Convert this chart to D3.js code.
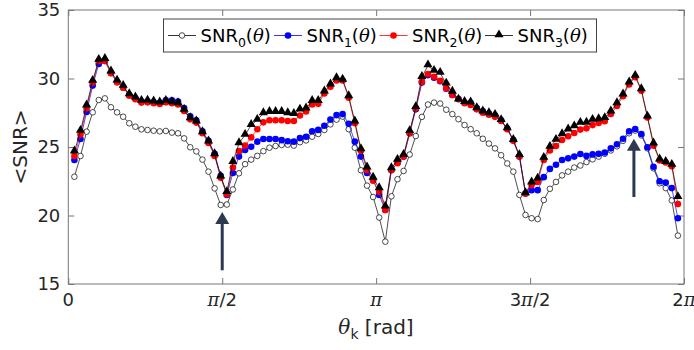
<!DOCTYPE html>
<html>
<head>
<meta charset="utf-8">
<script src="https://cdn.jsdelivr.net/npm/d3@7"></script>
<style>
  html, body { margin: 0; padding: 0; background: #fff; }
  svg { display: block; font-family: "DejaVu Sans", sans-serif; }
</style>
</head>
<body>
<svg id="chart" width="694" height="350"></svg>
<script>
// Mean SNR against the angle theta_k, sampled at theta_k = 2*pi*k/101, k = 1..100
const sampleCount = 100;

const snr0 = [
  22.83, 24.34, 26.12, 27.53, 28.43, 28.55, 27.90, 27.53, 27.21, 26.73,
  26.48, 26.29, 26.24, 26.19, 26.14, 26.17, 26.05, 26.00, 25.63, 24.98,
  24.68, 24.08, 23.20, 21.98, 20.77, 20.80, 21.90, 23.08, 23.75, 24.08,
  24.35, 24.70, 24.95, 25.07, 25.15, 25.17, 25.10, 25.35, 25.48, 25.75,
  25.95, 26.24, 26.65, 27.00, 27.22, 26.30, 24.95, 23.30, 22.18, 21.35,
  19.85, 18.09, 21.40, 22.65, 23.25, 24.45, 25.80, 27.20, 28.10, 28.24,
  28.17, 27.72, 27.40, 27.03, 26.60, 26.30, 26.00, 25.60, 25.25, 24.90,
  24.40, 23.80, 23.20, 21.50, 20.04, 19.80, 19.74, 21.13, 21.95, 22.45,
  22.93, 23.20, 23.50, 23.65, 23.90, 24.10, 24.30, 24.50, 24.75, 25.05,
  25.45, 26.00, 26.20, 25.85, 24.90, 23.45, 22.35, 22.00, 21.10, 18.53
];

const snr1 = [
  24.05, 25.58, 27.55, 29.48, 31.06, 31.28, 30.40, 29.75, 29.35, 28.80,
  28.55, 28.32, 28.32, 28.26, 28.22, 28.40, 28.40, 28.32, 27.85, 27.25,
  26.95, 26.15, 25.45, 24.50, 22.90, 21.50, 23.10, 24.30, 24.78, 25.02,
  25.39, 25.58, 25.58, 25.58, 25.50, 25.42, 25.39, 25.65, 25.75, 26.15,
  26.25, 26.55, 27.00, 27.33, 27.40, 26.70, 25.39, 24.30, 23.10, 22.60,
  21.50, 20.40, 23.30, 23.85, 24.30, 26.00, 27.75, 29.70, 30.25, 30.05,
  29.80, 29.25, 28.80, 28.50, 28.25, 28.20, 27.85, 27.60, 27.45, 27.30,
  26.95, 26.35, 25.50, 24.30, 21.60, 21.85, 21.85, 22.80, 23.40, 23.70,
  24.05, 24.17, 24.30, 24.49, 24.35, 24.46, 24.50, 24.60, 24.90, 25.20,
  25.60, 26.15, 26.31, 25.95, 24.98, 23.56, 22.50, 22.40, 22.00, 19.80
];

const snr2 = [
  24.34, 25.92, 27.82, 29.70, 31.28, 31.28, 30.38, 29.72, 29.33, 28.75,
  28.48, 28.24, 28.26, 28.19, 28.14, 28.26, 28.19, 28.11, 27.63, 27.02,
  26.78, 26.00, 25.30, 24.35, 22.75, 21.55, 23.50, 24.70, 25.10, 25.70,
  26.30, 26.80, 26.95, 26.95, 26.95, 26.90, 26.90, 27.30, 27.60, 28.10,
  28.15, 28.90, 29.40, 29.85, 29.85, 28.60, 26.73, 24.73, 23.32, 22.54,
  21.74, 20.40, 23.32, 23.81, 24.30, 26.00, 27.82, 29.77, 30.33, 30.13,
  29.84, 29.28, 28.80, 28.48, 28.19, 28.07, 27.75, 27.50, 27.35, 27.20,
  26.90, 26.30, 25.45, 24.30, 21.60, 22.22, 22.45, 24.05, 24.75, 25.07,
  25.51, 25.78, 26.02, 26.27, 26.36, 26.60, 26.75, 26.88, 27.41, 27.99,
  28.70, 29.57, 30.10, 29.11, 27.16, 25.10, 24.02, 23.87, 23.60, 20.84
];

const snr3 = [
  24.66, 26.17, 28.02, 29.82, 31.35, 31.42, 30.50, 29.84, 29.45, 28.84,
  28.60, 28.36, 28.38, 28.31, 28.24, 28.36, 28.26, 28.19, 27.70, 27.09,
  26.85, 26.07, 25.39, 24.46, 22.83, 21.70, 23.90, 25.27, 25.88, 26.60,
  26.97, 27.45, 27.55, 27.55, 27.55, 27.45, 27.40, 27.72, 27.80, 28.35,
  28.35, 29.04, 29.55, 30.01, 29.90, 28.70, 26.85, 24.83, 23.50, 22.75,
  21.98, 20.64, 23.44, 24.05, 24.42, 26.15, 27.90, 30.10, 30.95, 30.55,
  30.40, 29.62, 29.02, 28.45, 28.28, 28.24, 27.82, 27.58, 27.46, 27.34,
  26.95, 26.35, 25.50, 24.40, 21.62, 22.40, 22.68, 24.20, 25.00, 25.51,
  25.92, 26.27, 26.50, 26.75, 26.76, 26.97, 27.02, 27.10, 27.58, 28.19,
  28.82, 29.70, 30.18, 29.21, 27.21, 25.25, 24.08, 23.90, 23.69, 21.33
];

const xTickValues = [0, Math.PI / 2, Math.PI, 3 * Math.PI / 2, 2 * Math.PI];
const xTickLabels = [["0"], ["π", "/2"], ["π"], ["3", "π", "/2"], ["2", "π"]];
const yTickValues = [15, 20, 25, 30, 35];

const seriesSubscripts = ["0", "1", "2", "3"];

// Arrows marking the two dips/peaks of interest: angle, tail value, head value
const arrowTheta = [Math.PI / 2, 5.772];
const arrowTail = [16.0, 21.35];
const arrowHead = [20.25, 25.6];

const theta = d3.range(1, sampleCount + 1).map(k => 2 * Math.PI * k / 101);

const svg = d3.select("#chart");
const plot = { left: 68.3, right: 684, top: 10, bottom: 284 };
const axisColor = "#262626";

const x = d3.scaleLinear().domain([0, 2 * Math.PI]).range([plot.left, plot.right]);
const y = d3.scaleLinear().domain([15, 35]).range([plot.bottom, plot.top]);

// Plot box with inward ticks on all four sides
const tickLen = 6;
const gAxes = svg.append("g");

gAxes.append("rect")
  .attr("x", plot.left).attr("y", plot.top)
  .attr("width", plot.right - plot.left).attr("height", plot.bottom - plot.top)
  .attr("fill", "none").attr("stroke", "#777").attr("stroke-width", 1);

const xAxisBottom = d3.axisBottom(x).tickValues(xTickValues).tickSizeInner(-tickLen).tickSizeOuter(0).tickFormat("");
const xAxisTop = d3.axisTop(x).tickValues(xTickValues).tickSizeInner(-tickLen).tickSizeOuter(0).tickFormat("");
const yAxisLeft = d3.axisLeft(y).tickValues(yTickValues).tickSizeInner(-tickLen).tickSizeOuter(0).tickFormat("");
const yAxisRight = d3.axisRight(y).tickValues(yTickValues).tickSizeInner(-tickLen).tickSizeOuter(0).tickFormat("");

[[xAxisBottom, `translate(0,${plot.bottom})`], [xAxisTop, `translate(0,${plot.top})`],
 [yAxisLeft, `translate(${plot.left},0)`], [yAxisRight, `translate(${plot.right},0)`]]
  .forEach(([ax, tr]) => {
    const g = gAxes.append("g").attr("transform", tr).call(ax);
    g.select(".domain").remove();
    g.selectAll(".tick line").attr("stroke", "#777").attr("stroke-width", 1);
  });

// Y tick labels
svg.append("g").selectAll("text").data(yTickValues).join("text")
  .attr("x", plot.left - 8).attr("y", d => y(d) + 6)
  .attr("text-anchor", "end").attr("font-size", 18).attr("fill", axisColor)
  .text(d => d);

// X tick labels (pi drawn as italic serif)
const xl = svg.append("g").selectAll("text").data(xTickValues).join("text")
  .attr("x", d => x(d)).attr("y", 306)
  .attr("text-anchor", "middle").attr("font-size", 18).attr("fill", axisColor);
xl.each(function (d, i) {
  const t = d3.select(this);
  xTickLabels[i].forEach(part => {
    const s = t.append("tspan").text(part);
    if (part === "π") s.attr("font-family", "DejaVu Serif").attr("font-style", "italic");
  });
});

// Axis titles
const xTitle = svg.append("text").attr("x", 376).attr("y", 334)
  .attr("text-anchor", "middle").attr("font-size", 20).attr("fill", axisColor);
xTitle.append("tspan").attr("font-family", "DejaVu Serif").attr("font-style", "italic").text("θ");
xTitle.append("tspan").attr("font-size", 14).attr("dy", 5).text("k");
xTitle.append("tspan").attr("dy", -5).text(" [rad]");

svg.append("text")
  .attr("transform", `translate(27,${(plot.top + plot.bottom) / 2}) rotate(-90)`)
  .attr("text-anchor", "middle").attr("font-size", 20).attr("fill", axisColor)
  .text("<SNR>");

// Series
const seriesData = [snr0, snr1, snr2, snr3];
const seriesStyle = [
  { color: "#000000", marker: "circle", fill: "#ffffff", r: 2.8 },
  { color: "#0000ff", marker: "circle", fill: "#0000ff", r: 3.3 },
  { color: "#ff0000", marker: "circle", fill: "#ff0000", r: 3.3 },
  { color: "#000000", marker: "triangle", fill: "#000000", r: 0 }
];

const line = d3.line().x(d => x(d[0])).y(d => y(d[1]));
const triangle = d3.symbol().type(d3.symbolTriangle).size(36);

function drawMarker(sel, st) {
  if (st.marker === "circle") {
    sel.append("circle").attr("r", st.r)
      .attr("fill", st.fill).attr("stroke", st.color).attr("stroke-width", st.fill === "#ffffff" ? 0.7 : 0);
  } else {
    sel.append("path").attr("d", triangle).attr("transform", "translate(0,-0.8)").attr("fill", st.fill);
  }
}

const gData = svg.append("g");
seriesData.forEach((vals, si) => {
  const st = seriesStyle[si];
  const pts = vals.map((v, i) => [theta[i], v]);
  const g = gData.append("g");
  g.append("path").datum(pts).attr("d", line)
    .attr("fill", "none").attr("stroke", st.color).attr("stroke-width", 0.7);
  g.selectAll("g.m").data(pts).join("g").attr("class", "m")
    .attr("transform", d => `translate(${x(d[0])},${y(d[1])})`)
    .each(function () { drawMarker(d3.select(this), st); });
});

// Arrows
const arrowColor = "#2b3a50";
arrowTheta.forEach((t, i) => {
  const ax = x(t), yTail = y(arrowTail[i]), yTip = y(arrowHead[i]);
  const headLen = 12, headHalf = 7;
  svg.append("line").attr("x1", ax).attr("x2", ax).attr("y1", yTail).attr("y2", yTip + headLen - 1)
    .attr("stroke", arrowColor).attr("stroke-width", 3);
  svg.append("path")
    .attr("d", `M${ax},${yTip} L${ax + headHalf},${yTip + headLen} L${ax - headHalf},${yTip + headLen} Z`)
    .attr("fill", arrowColor);
});

// Legend
const legend = svg.append("g");
const legendBox = { x: 163.5, y: 19, w: 433, h: 33 };
legend.append("rect").attr("x", legendBox.x).attr("y", legendBox.y)
  .attr("width", legendBox.w).attr("height", legendBox.h)
  .attr("fill", "#fff").attr("stroke", "#444").attr("stroke-width", 1);

const entryX = [168, 274, 379.5, 485];
seriesStyle.forEach((st, i) => {
  const ex = entryX[i], ey = 35.5;
  const eg = legend.append("g");
  eg.append("line").attr("x1", ex).attr("x2", ex + 28).attr("y1", ey).attr("y2", ey)
    .attr("stroke", st.color).attr("stroke-width", 0.8);
  const mg = eg.append("g").attr("transform", `translate(${ex + 14},${ey})`);
  drawMarker(mg, st);
  const tx = eg.append("text").attr("x", ex + 32.5).attr("y", ey + 6)
    .attr("font-size", 18).attr("fill", "#000");
  tx.append("tspan").text("SNR");
  tx.append("tspan").attr("font-size", 12.5).attr("dy", 5).text(seriesSubscripts[i]);
  tx.append("tspan").attr("dy", -5).text("(");
  tx.append("tspan").attr("font-family", "DejaVu Serif").attr("font-style", "italic").text("θ");
  tx.append("tspan").text(")");
});
</script>
</body>
</html>
